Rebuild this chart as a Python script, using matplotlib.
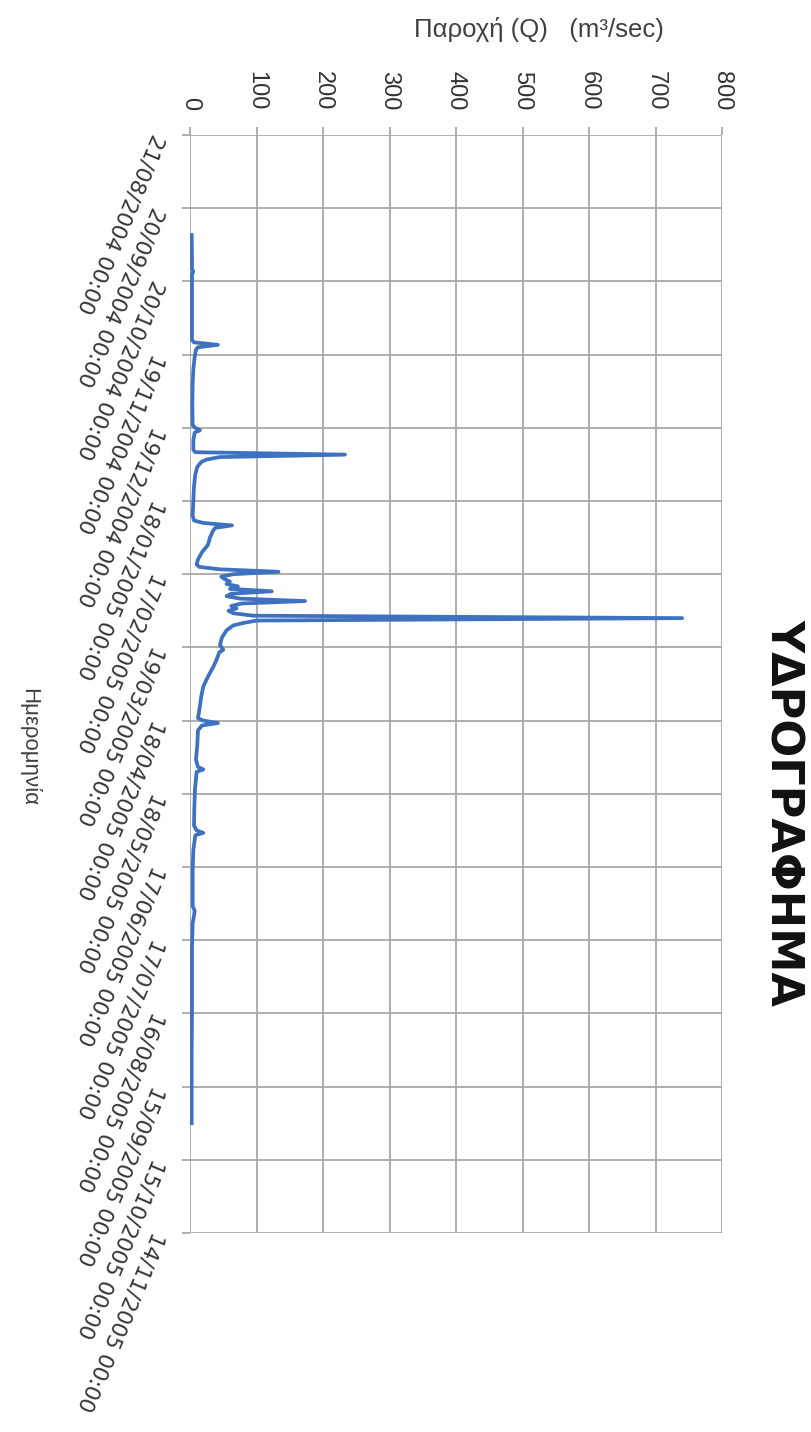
import matplotlib
matplotlib.use('Agg')
import matplotlib.pyplot as plt
from datetime import datetime

# daily discharge readings, hydrological year 2004-2005
obs_dates = [
    '01/10/2004', '10/10/2004', '15/10/2004', '16/10/2004', '17/10/2004',
    '01/11/2004', '13/11/2004', '14/11/2004', '15/11/2004', '16/11/2004',
    '17/11/2004', '20/11/2004', '25/11/2004', '01/12/2004', '10/12/2004',
    '18/12/2004', '19/12/2004', '20/12/2004', '21/12/2004', '24/12/2004',
    '28/12/2004', '29/12/2004', '30/12/2004', '31/12/2004', '01/01/2005',
    '02/01/2005', '04/01/2005', '07/01/2005', '12/01/2005', '18/01/2005',
    '24/01/2005', '26/01/2005', '27/01/2005', '28/01/2005', '29/01/2005',
    '30/01/2005', '02/02/2005', '05/02/2005', '08/02/2005', '11/02/2005',
    '13/02/2005', '14/02/2005', '15/02/2005', '16/02/2005', '17/02/2005',
    '18/02/2005', '19/02/2005', '20/02/2005', '21/02/2005', '22/02/2005',
    '23/02/2005', '24/02/2005', '25/02/2005', '26/02/2005', '27/02/2005',
    '28/02/2005', '01/03/2005', '02/03/2005', '03/03/2005', '04/03/2005',
    '05/03/2005', '06/03/2005', '07/03/2005', '08/03/2005', '09/03/2005',
    '10/03/2005', '12/03/2005', '15/03/2005', '18/03/2005', '20/03/2005',
    '21/03/2005', '24/03/2005', '27/03/2005', '31/03/2005', '04/04/2005',
    '08/04/2005', '12/04/2005', '17/04/2005', '18/04/2005', '19/04/2005',
    '20/04/2005', '22/04/2005', '28/04/2005', '04/05/2005', '07/05/2005',
    '08/05/2005', '09/05/2005', '16/05/2005', '24/05/2005', '31/05/2005',
    '02/06/2005', '03/06/2005', '04/06/2005', '10/06/2005', '18/06/2005',
    '03/07/2005', '05/07/2005', '07/07/2005', '10/07/2005', '20/07/2005',
    '01/08/2005', '15/08/2005', '01/09/2005', '30/09/2005',
]
discharge = [
    2.5, 3, 3, 5, 3,
    3, 3, 6, 42, 12,
    9, 7, 5, 4, 3.5,
    4, 8, 15, 7, 5,
    5, 8, 233, 45, 25,
    17, 11, 8, 6, 5,
    4, 6, 20, 63, 38,
    35, 30, 27, 18, 12,
    10, 14, 45, 133, 65,
    47, 52, 60, 55, 72,
    60, 123, 62, 55, 75,
    173, 78, 62, 70, 58,
    65, 95, 740, 100, 80,
    65, 55, 48, 45, 50,
    44, 40, 35, 27, 20,
    17, 15, 12, 20, 42,
    18, 12, 11, 9, 12,
    20, 10, 7.5, 6.5, 6,
    10, 20, 8, 5, 4,
    4, 7, 6, 4, 3,
    3, 3, 2.5, 2.5,
]

date_ticks = [
    '21/08/2004 00:00', '20/09/2004 00:00', '20/10/2004 00:00', '19/11/2004 00:00',
    '19/12/2004 00:00', '18/01/2005 00:00', '17/02/2005 00:00', '19/03/2005 00:00',
    '18/04/2005 00:00', '18/05/2005 00:00', '17/06/2005 00:00', '17/07/2005 00:00',
    '16/08/2005 00:00', '15/09/2005 00:00', '15/10/2005 00:00', '14/11/2005 00:00',
]
q_ticks = [0, 100, 200, 300, 400, 500, 600, 700, 800]

grid_col = '#a8a8a8'
text_col = '#333333'

fig = plt.figure(figsize=(8.11, 14.32), dpi=100)
ax = fig.add_axes([190 / 811, 199 / 1432, 532 / 811, 1098 / 1432])

days = [datetime.strptime(s, '%d/%m/%Y') for s in obs_dates]
tick_days = [datetime.strptime(s, '%d/%m/%Y %H:%M') for s in date_ticks]

ax.plot(discharge, days, color='#3e71bf', lw=2.7, solid_joinstyle='round')

ax.set_xlim(q_ticks[0], q_ticks[-1])
ax.set_ylim(tick_days[-1], tick_days[0])

ax.xaxis.tick_top()
ax.set_xticks(q_ticks)
ax.set_xticklabels([str(v) for v in q_ticks], rotation=-90, fontsize=17,
                   family='Liberation Sans', color=text_col)
ax.set_yticks(tick_days)
ax.set_yticklabels(date_ticks, rotation=247, ha='left', va='center',
                   rotation_mode='anchor', fontsize=15.5,
                   family='DejaVu Sans', color=text_col)

ax.tick_params(axis='x', direction='out', length=5.8, width=1.3,
               color=grid_col, pad=12)
ax.tick_params(axis='y', direction='out', length=5.8, width=1.3,
               color=grid_col, pad=17)

ax.grid(True, color=grid_col, lw=1.3)
ax.set_axisbelow(True)
for sp in ax.spines.values():
    sp.set_visible(False)

fig.text(539 / 811, 1 - 30 / 1432, 'Παροχή (Q)   (m³/sec)', ha='center',
         va='center', fontsize=18.5, family='Liberation Sans', color='#404040')
fig.text(29 / 811, 1 - 747 / 1432, 'Ημερομηνία', rotation=-90, ha='center',
         va='center', fontsize=16, family='Liberation Sans', color='#404040')
fig.text(783 / 811, 1 - 812 / 1432, 'ΥΔΡΟΓΡΑΦΗΜΑ', rotation=-90, ha='center',
         va='center', fontsize=32, fontweight='bold', family='DejaVu Sans',
         color='#111111')

fig.savefig('out.png', dpi=100, facecolor='white')
